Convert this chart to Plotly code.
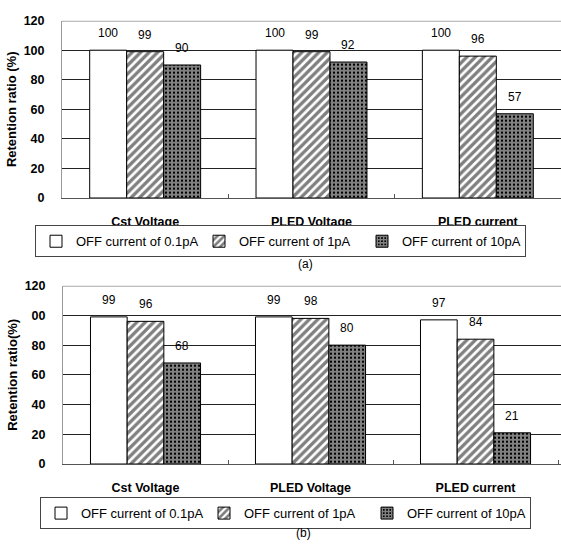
import plotly.graph_objects as go

# ---------------- data ----------------
categories = ["Cst Voltage", "PLED Voltage", "PLED current"]
series_names = ["OFF current of 0.1pA", "OFF current of 1pA", "OFF current of 10pA"]

a_off_01pA = [100, 100, 100]
a_off_1pA = [99, 99, 96]
a_off_10pA = [90, 92, 57]

b_off_01pA = [99, 99, 97]
b_off_1pA = [96, 98, 84]
b_off_10pA = [68, 80, 21]

y_tickvals = [0, 20, 40, 60, 80, 100, 120]
a_ticktext = ["0", "20", "40", "60", "80", "100", "120"]
b_ticktext = ["0", "20", "40", "60", "80", "00", "120"]

a_ytitle = "Retention ratio (%)"
b_ytitle = "Retention ratio(%)"
panel_labels = ["(a)", "(b)"]

# ---------------- styling ----------------
W, H = 561, 548
FONT = "Liberation Sans, Arial, sans-serif"
BARGAP = 0.333

patterns = [
    dict(shape=""),
    dict(shape="/", size=6, solidity=0.55, fgcolor="black", bgcolor="white"),
    dict(shape="+", size=4, solidity=0.75, fgcolor="white", bgcolor="black"),
]

fig = go.Figure()

panels = [
    dict(vals=[a_off_01pA, a_off_1pA, a_off_10pA], xa="x", ya="y", legend="legend"),
    dict(vals=[b_off_01pA, b_off_1pA, b_off_10pA], xa="x2", ya="y2", legend="legend2"),
]

for p in panels:
    for j, (name, vals) in enumerate(zip(series_names, p["vals"])):
        fig.add_trace(go.Bar(
            x=categories, y=vals, name=name,
            xaxis=p["xa"], yaxis=p["ya"], legend=p["legend"],
            marker=dict(color="white", pattern=patterns[j],
                        line=dict(color="black", width=1)),
            hoverinfo="skip",
        ))

# value labels above the bars
annotations = []
w = (1 - BARGAP) / 3
for p in panels:
    for j, vals in enumerate(p["vals"]):
        for i, v in enumerate(vals):
            annotations.append(dict(
                x=i + (j - 1) * w, y=v, xref=p["xa"], yref=p["ya"],
                text=str(v), showarrow=False, yshift=17, yanchor="middle",
                font=dict(family=FONT, size=12, color="black"),
            ))

# panel labels
annotations.append(dict(x=305 / W, y=1 - 264 / H, xref="paper", yref="paper",
                        xanchor="center", yanchor="middle",
                        text=panel_labels[0], showarrow=False,
                        font=dict(family=FONT, size=12, color="black")))
annotations.append(dict(x=303 / W, y=1 - 540 / H, xref="paper", yref="paper",
                        xanchor="center", yanchor="middle",
                        text=panel_labels[1], showarrow=False,
                        font=dict(family=FONT, size=12, color="black")))

tickfont = dict(family=FONT, size=12.5, color="black", weight="bold")
titlefont = dict(family=FONT, size=13, color="black", weight="bold")

def xaxis_cfg(domain, anchor, rng):
    return dict(domain=domain, anchor=anchor, range=rng, type="category",
                showline=True, linecolor="#555", linewidth=1,
                ticks="inside", ticklen=4, tickcolor="#555", tickson="boundaries",
                showgrid=False, tickfont=tickfont, ticklabelstandoff=12,
                fixedrange=True)

def yaxis_cfg(domain, anchor, ticktext, title):
    return dict(domain=domain, anchor=anchor, range=[0, 120],
                tickvals=y_tickvals, ticktext=ticktext,
                showline=True, linecolor="#999", linewidth=1,
                showgrid=True, gridcolor="#222", gridwidth=1,
                zeroline=False, ticks="", tickfont=tickfont,
                ticklabelstandoff=14,
                title=dict(text=title, font=titlefont, standoff=4),
                fixedrange=True)

shapes = [
    dict(type="line", xref="x domain", yref="y", x0=0, x1=1, y0=120, y1=120,
         line=dict(color="#aaa", width=2), layer="above"),
    dict(type="line", xref="x2 domain", yref="y2", x0=0, x1=1, y0=120, y1=120,
         line=dict(color="#aaa", width=2), layer="above"),
]

legend_common = dict(orientation="h", bgcolor="white", bordercolor="#444",
                     borderwidth=1, font=dict(family=FONT, size=13, color="black"),
                     entrywidthmode="pixels", entrywidth=118,
                     xanchor="left", yanchor="top", itemclick=False,
                     itemdoubleclick=False, tracegroupgap=0)

fig.update_layout(
    width=W, height=H,
    margin=dict(l=0, r=0, t=0, b=0),
    paper_bgcolor="white", plot_bgcolor="white",
    barmode="group", bargap=BARGAP, bargroupgap=0,
    showlegend=True,
    xaxis=xaxis_cfg([62 / W, 1], "y", [-0.5, 2.5]),
    yaxis=yaxis_cfg([1 - 196 / H, 1 - 14 / H], "x", a_ticktext, a_ytitle),
    xaxis2=xaxis_cfg([63 / W, 1], "y2", [-0.5, 2.518]),
    yaxis2=yaxis_cfg([1 - 469 / H, 1 - 286 / H], "x2", b_ticktext, b_ytitle),
    legend=dict(legend_common, x=35 / W, y=1 - 224 / H),
    legend2=dict(legend_common, x=40 / W, y=1 - 503 / H),
    annotations=annotations,
    shapes=shapes,
)

fig.write_html("out.html")
